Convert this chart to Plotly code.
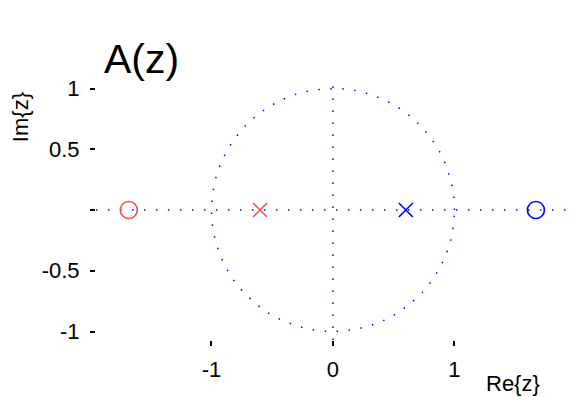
import numpy as np
import plotly.graph_objects as go

# Pole/zero locations of the all-pass section A(z)
zeros_red = [-1.68]
poles_red = [-0.6]
poles_blue = [0.6]
zeros_blue = [1.67]

x_range = [-1.95, 2.0]
y_range = [-1.07, 1.07]
x_ticks = [-1, 0, 1]
x_tick_labels = ["-1", "0", "1"]
y_ticks = [-1, -0.5, 0, 0.5, 1]
y_tick_labels = ["-1", "-0.5", "", "0.5", "1"]

RED = "rgb(238,84,70)"
BLUE = "rgb(0,0,255)"
FONT = "Liberation Sans, Arial, Helvetica, sans-serif"
DOTS = "1.5px,10.5px"

theta = np.linspace(0, 2 * np.pi, 400)

fig = go.Figure()

# unit circle and the two axes, dotted
fig.add_trace(go.Scatter(x=np.cos(theta), y=np.sin(theta), mode="lines",
                         line=dict(color=BLUE, width=1.5, dash=DOTS), hoverinfo="skip"))
fig.add_trace(go.Scatter(x=x_range, y=[0, 0], mode="lines",
                         line=dict(color=BLUE, width=1.5, dash=DOTS), hoverinfo="skip"))
fig.add_trace(go.Scatter(x=[0, 0], y=y_range, mode="lines",
                         line=dict(color=BLUE, width=1.5, dash=DOTS), hoverinfo="skip"))

# poles (x) and zeros (o)
fig.add_trace(go.Scatter(x=zeros_red, y=[0] * len(zeros_red), mode="markers",
                         marker=dict(symbol="circle-open", size=17, color=RED,
                                     line=dict(width=1.6, color=RED))))
fig.add_trace(go.Scatter(x=poles_red, y=[0] * len(poles_red), mode="markers",
                         marker=dict(symbol="x-thin-open", size=14, color=RED,
                                     line=dict(width=1.6, color=RED))))
fig.add_trace(go.Scatter(x=poles_blue, y=[0] * len(poles_blue), mode="markers",
                         marker=dict(symbol="x-thin-open", size=14, color=BLUE,
                                     line=dict(width=1.6, color=BLUE))))
fig.add_trace(go.Scatter(x=zeros_blue, y=[0] * len(zeros_blue), mode="markers",
                         marker=dict(symbol="circle-open", size=17, color=BLUE,
                                     line=dict(width=1.6, color=BLUE))))

fig.update_layout(
    width=576, height=397,
    margin=dict(l=96, r=0, t=80, b=57),
    paper_bgcolor="white", plot_bgcolor="white",
    showlegend=False,
    font=dict(family=FONT, size=22, color="black"),
    xaxis=dict(range=x_range, tickvals=x_ticks, ticktext=x_tick_labels,
               showgrid=False, zeroline=False, showline=False,
               ticks="outside", ticklen=5, tickwidth=1.5, tickcolor="black",
               tickfont=dict(family=FONT, size=22), ticklabelstandoff=5,
               fixedrange=True),
    yaxis=dict(range=y_range, tickvals=y_ticks, ticktext=y_tick_labels,
               showgrid=False, zeroline=False, showline=False,
               ticks="outside", ticklen=5, tickwidth=1.5, tickcolor="black",
               tickfont=dict(family=FONT, size=22), ticklabelstandoff=6,
               fixedrange=True),
    annotations=[
        dict(text="A(z)", xref="paper", yref="paper", x=0.013, y=1.0,
             xanchor="left", yanchor="bottom", yshift=-4, showarrow=False,
             font=dict(family=FONT, size=41, color="black")),
        dict(text="Im{z}", xref="paper", yref="paper", x=-0.158, y=1.0,
             xanchor="center", yanchor="top", textangle=-90, showarrow=False,
             yshift=-10, font=dict(family=FONT, size=22)),
        dict(text="Re{z}", xref="paper", yref="paper", x=0.868, y=0,
             xanchor="center", yanchor="top", yshift=-29, showarrow=False,
             font=dict(family=FONT, size=22)),
    ],
)

fig.write_html("out.html")
